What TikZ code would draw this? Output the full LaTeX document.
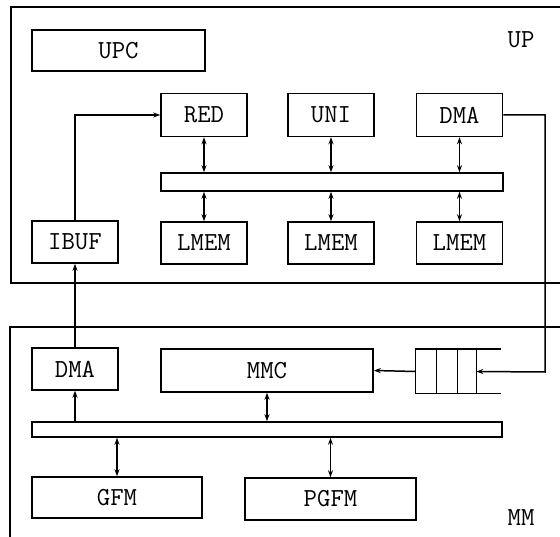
\documentclass[tikz,border=0pt]{standalone}
\usepackage{tikz}
\usetikzlibrary{arrows.meta}

\begin{document}
\begin{tikzpicture}[x=1pt, y=-1pt, line width=1.5pt]
  \tikzset{
    box_node/.style={draw, rectangle, inner sep=0pt, minimum height=43pt, font=\ttfamily\fontsize{26}{30}\selectfont},
    bus_node/.style={draw, rectangle, inner sep=0pt},
    label_node/.style={inner sep=0pt, font=\ttfamily\fontsize{26}{30}\selectfont},
    link/.style={-{Stealth[length=7pt,width=5pt]}},
    duplex/.style={{Stealth[length=7pt,width=5pt]}-{Stealth[length=7pt,width=5pt]}}
  }

  % Bounding box de la figura
  \useasboundingbox (0,0) rectangle (560,537);

  % Marcos abiertos (UP arriba, MM abajo)
  \draw (560,7) -- (11,7) -- (11,283) -- (560,283);
  \draw (560,327) -- (10,327) -- (10,537);
  \node[label_node] (up) at (521,40) {UP};
  \node[label_node] (mm) at (521,518) {MM};

  % Bloques de UP
  \node[box_node, minimum width=173pt, minimum height=41pt] (upc) at (118.5,50.5) {UPC};
  \node[box_node, minimum width=86pt] (red) at (204,115) {RED};
  \node[box_node, minimum width=86pt] (uni) at (331,115) {UNI};
  \node[box_node, minimum width=86pt] (dmaup) at (459.5,115) {DMA};
  \node[bus_node, minimum width=342pt, minimum height=18pt] (busup) at (332,182) {};
  \node[box_node, minimum width=86pt, minimum height=42pt] (ibuf) at (75,242) {IBUF};
  \node[box_node, minimum width=86pt, minimum height=42pt] (lmema) at (204,243) {LMEM};
  \node[box_node, minimum width=86pt, minimum height=42pt] (lmemb) at (331,243) {LMEM};
  \node[box_node, minimum width=86pt, minimum height=42pt] (lmemc) at (459.5,243) {LMEM};

  % Bloques de MM
  \node[box_node, minimum width=86pt, minimum height=42pt] (dmamm) at (75,369) {DMA};
  \node[box_node, minimum width=212pt] (mmc) at (267,370.5) {MMC};
  \node[inner sep=0pt, minimum width=61pt, minimum height=43pt] (queue) at (446.5,371.5) {};
  \node[bus_node, minimum width=470pt, minimum height=15pt] (busmm) at (267,429.5) {};
  \node[box_node, minimum width=170pt, minimum height=41pt] (gfm) at (117,497.5) {GFM};
  \node[box_node, minimum width=171pt, minimum height=42pt] (pgfm) at (330.5,499) {PGFM};

  % Cola (abierta por la derecha)
  \draw (queue.north west) -- ++(86,0);
  \draw (queue.north west) -- (queue.south west) -- ++(86,0);
  \foreach \dx in {21,42,61}
    \draw ([xshift=\dx pt]queue.north west) -- ([xshift=\dx pt]queue.south west);

  % Conexiones con el bus de UP
  \draw[duplex] (red.south) -- (red.south |- busup.north);
  \draw[duplex] (uni.south) -- (uni.south |- busup.north);
  \draw[duplex] (dmaup.south) -- (dmaup.south |- busup.north);
  \draw[duplex] (lmema.north |- busup.south) -- (lmema.north);
  \draw[duplex] (lmemb.north |- busup.south) -- (lmemb.north);
  \draw[duplex] (lmemc.north |- busup.south) -- (lmemc.north);

  % IBUF hacia RED, DMA de MM hacia IBUF
  \draw[link] (ibuf.north) |- (red.west);
  \draw[link] (dmamm.north) -- (ibuf.south);

  % DMA de UP hacia la cola, cola hacia MMC
  \coordinate (turn) at (545,372);
  \draw[link] (dmaup.east) -| (turn) -- ([xshift=61pt]queue.west);
  \draw[link] (queue.west) -- (mmc.east);

  % Conexiones con el bus de MM
  \draw[link] (dmamm.south |- busmm.north) -- (dmamm.south);
  \draw[duplex] (mmc.south) -- (mmc.south |- busmm.north);
  \draw[duplex] (gfm.north |- busmm.south) -- (gfm.north);
  \draw[duplex] (pgfm.north |- busmm.south) -- (pgfm.north);
\end{tikzpicture}
\end{document}
